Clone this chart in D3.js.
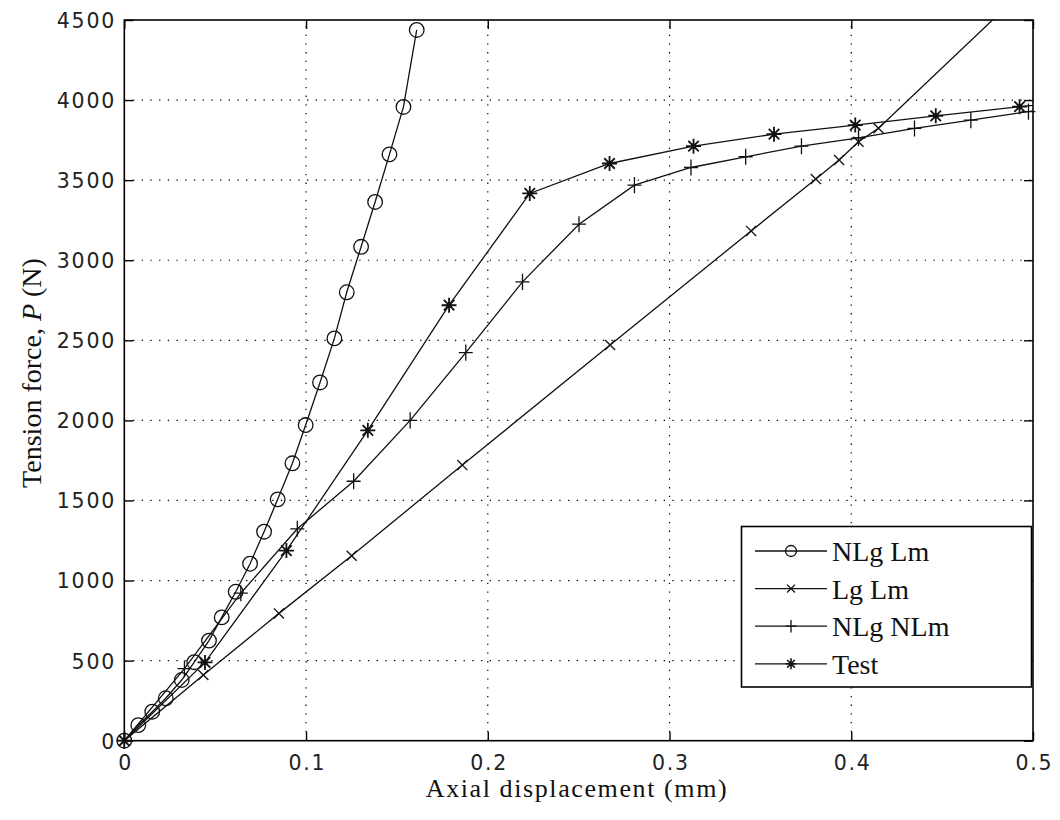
<!DOCTYPE html>
<html>
<head>
<meta charset="utf-8">
<script src="https://cdn.jsdelivr.net/npm/d3@7"></script>
<style>
  html, body { margin: 0; padding: 0; background: #fff; }
  svg { display: block; }
  .tick-label { font-family: "DejaVu Sans", sans-serif; font-size: 20.5px; letter-spacing: 1.8px; fill: #222; }
  .serif { font-family: "Liberation Serif", "Times New Roman", serif; fill: #111; }
</style>
</head>
<body>
<svg id="chart" width="1060" height="820"></svg>
<script>
// Axial displacement (mm) and tension force (N) for each analysis and the test
const nlgLmX = [0, 0.0077, 0.0154, 0.0228, 0.0316, 0.0385, 0.0466, 0.0536, 0.0613, 0.0692, 0.0769,
                0.0844, 0.0925, 0.0998, 0.1077, 0.1156, 0.1224, 0.1303, 0.1380, 0.1459, 0.1536, 0.1609];
const nlgLmY = [0, 97, 181, 265, 379, 490, 625, 770, 930, 1105, 1305,
                1507, 1732, 1971, 2237, 2512, 2800, 3084, 3364, 3661, 3957, 4438];

const lgLmX = [0, 0.0435, 0.0851, 0.1251, 0.1860, 0.2673, 0.3449, 0.3805, 0.3933, 0.4040, 0.4150, 0.5000];
const lgLmY = [0, 410, 795, 1155, 1721, 2471, 3183, 3507, 3626, 3740, 3824, 4740];

const nlgNlmX = [0, 0.0331, 0.0641, 0.0952, 0.1262, 0.1573, 0.1879, 0.2191, 0.2502, 0.2807,
                 0.3118, 0.3419, 0.3726, 0.4040, 0.4348, 0.4658, 0.4975, 0.5270];
const nlgNlmY = [0, 450, 921, 1323, 1620, 2000, 2423, 2865, 3225, 3469,
                 3579, 3646, 3712, 3764, 3823, 3875, 3928, 3975];

const testX = [0, 0.0444, 0.0892, 0.1340, 0.1787, 0.2231, 0.2670, 0.3132, 0.3575, 0.4022, 0.4465, 0.4926, 0.5350];
const testY = [0, 489, 1187, 1938, 2719, 3417, 3604, 3712, 3787, 3844, 3902, 3959, 4006];

const seriesNames = ["NLg Lm", "Lg Lm", "NLg NLm", "Test"];
const seriesMarkers = ["circle", "cross", "plus", "star"];

const xTicks = [0, 0.1, 0.2, 0.3, 0.4, 0.5];
const xTickLabels = ["0", "0.1", "0.2", "0.3", "0.4", "0.5"];
const yTicks = [0, 500, 1000, 1500, 2000, 2500, 3000, 3500, 4000, 4500];
const yTickLabels = ["0", "500", "1000", "1500", "2000", "2500", "3000", "3500", "4000", "4500"];

const xLabel = "Axial displacement (mm)";

const series = [
  { x: nlgLmX, y: nlgLmY },
  { x: lgLmX, y: lgLmY },
  { x: nlgNlmX, y: nlgNlmY },
  { x: testX, y: testY }
].map((s, i) => ({
  name: seriesNames[i],
  marker: seriesMarkers[i],
  pts: s.x.map((v, j) => [v, s.y[j]])
}));

const svg = d3.select("#chart");
const pLeft = 124.3, pRight = 1033, pTop = 20, pBottom = 740.7;
const x = d3.scaleLinear().domain([0, 0.5]).range([pLeft, pRight]);
const y = d3.scaleLinear().domain([0, 4500]).range([pBottom, pTop]);

svg.append("defs").append("clipPath").attr("id", "plot-clip")
  .append("rect").attr("x", pLeft).attr("y", pTop).attr("width", pRight - pLeft).attr("height", pBottom - pTop);

// dotted grid
const grid = svg.append("g").attr("stroke", "#000").attr("stroke-width", 1.2)
  .attr("stroke-dasharray", "1.3,7.4").attr("fill", "none");
xTicks.filter(t => t > 0 && t < 0.5).forEach(t => {
  grid.append("line").attr("x1", x(t)).attr("x2", x(t)).attr("y1", pBottom).attr("y2", pTop);
});
yTicks.filter(t => t > 0 && t < 4500).forEach(t => {
  grid.append("line").attr("x1", pLeft).attr("x2", pRight).attr("y1", y(t)).attr("y2", y(t));
});

// axes with inward ticks, mirrored on the top and right
const tickLen = 9;
const axB = svg.append("g").attr("transform", `translate(0,${pBottom})`)
  .call(d3.axisBottom(x).tickValues(xTicks).tickSizeInner(-tickLen).tickSizeOuter(0)
    .tickFormat((d, i) => xTickLabels[i]));
const axT = svg.append("g").attr("transform", `translate(0,${pTop})`)
  .call(d3.axisTop(x).tickValues(xTicks).tickSizeInner(-tickLen).tickSizeOuter(0).tickFormat(""));
const axL = svg.append("g").attr("transform", `translate(${pLeft},0)`)
  .call(d3.axisLeft(y).tickValues(yTicks).tickSizeInner(-tickLen).tickSizeOuter(0)
    .tickFormat((d, i) => yTickLabels[i]));
const axR = svg.append("g").attr("transform", `translate(${pRight},0)`)
  .call(d3.axisRight(y).tickValues(yTicks).tickSizeInner(-tickLen).tickSizeOuter(0).tickFormat(""));

[axB, axT, axL, axR].forEach(a => {
  a.attr("font-size", null).attr("font-family", null);
  a.select(".domain").remove();
  a.selectAll(".tick line").attr("stroke", "#000").attr("stroke-width", 1.4);
  a.selectAll("text").attr("class", "tick-label").attr("fill", null);
});
axB.selectAll(".tick text").attr("y", 29).attr("dy", null).attr("dx", "0.9px");
axL.selectAll(".tick text").attr("x", -10).attr("dy", "0.36em").attr("dx", "1.8px");

// frame
svg.append("rect").attr("x", pLeft).attr("y", pTop).attr("width", pRight - pLeft).attr("height", pBottom - pTop)
  .attr("fill", "none").attr("stroke", "#000").attr("stroke-width", 1.6);

// marker shapes
function markerPath(type, s) {
  const d = d3.path();
  if (type === "circle") {
    d.moveTo(s, 0); d.arc(0, 0, s, 0, 2 * Math.PI);
  } else if (type === "cross") {
    const c = s * 0.72;
    d.moveTo(-c, -c); d.lineTo(c, c); d.moveTo(-c, c); d.lineTo(c, -c);
  } else if (type === "plus") {
    d.moveTo(-s, 0); d.lineTo(s, 0); d.moveTo(0, -s * 1.15); d.lineTo(0, s * 1.15);
  } else if (type === "star") {
    const c = s * 0.7;
    d.moveTo(-s, 0); d.lineTo(s, 0); d.moveTo(0, -s); d.lineTo(0, s);
    d.moveTo(-c, -c); d.lineTo(c, c); d.moveTo(-c, c); d.lineTo(c, -c);
  }
  return d.toString();
}
const markerSize = { circle: 7.3, cross: 7, plus: 7, star: 7.5 };

const line = d3.line().x(d => x(d[0])).y(d => y(d[1]));
const plot = svg.append("g");
series.forEach(s => {
  plot.append("path").datum(s.pts).attr("d", line)
    .attr("fill", "none").attr("stroke", "#111").attr("stroke-width", 1.3)
    .attr("clip-path", "url(#plot-clip)");
});
series.forEach(s => {
  const inside = s.pts.filter(p => p[0] <= 0.5 && p[1] <= 4500);
  plot.append("g").selectAll("path").data(inside).join("path")
    .attr("transform", d => `translate(${x(d[0])},${y(d[1])})`)
    .attr("d", markerPath(s.marker, markerSize[s.marker]))
    .attr("fill", "none").attr("stroke", "#111")
    .attr("stroke-width", s.marker === "star" ? 1.8 : 1.3);
  if (s.marker === "star") {
    plot.append("g").selectAll("circle").data(inside).join("circle")
      .attr("cx", d => x(d[0])).attr("cy", d => y(d[1])).attr("r", 2.6).attr("fill", "#111");
  }
});

// axis titles
svg.append("text").attr("class", "serif").attr("x", 577).attr("y", 797)
  .attr("text-anchor", "middle").attr("font-size", 26).attr("letter-spacing", "1.6px").text(xLabel);
const yTitle = svg.append("text").attr("class", "serif")
  .attr("transform", "translate(41,373) rotate(-90)")
  .attr("text-anchor", "middle").attr("font-size", 28);
yTitle.append("tspan").text("Tension force, ");
yTitle.append("tspan").attr("font-style", "italic").text("P");
yTitle.append("tspan").text(" (N)");

// legend
const lg = svg.append("g");
lg.append("rect").attr("x", 741.5).attr("y", 526.5).attr("width", 290).attr("height", 160.5)
  .attr("fill", "#fff").attr("stroke", "#000").attr("stroke-width", 1.6);
series.forEach((s, i) => {
  const ry = 551 + i * 37.6;
  lg.append("line").attr("x1", 755).attr("x2", 827).attr("y1", ry).attr("y2", ry)
    .attr("stroke", "#111").attr("stroke-width", 1.3);
  lg.append("path").attr("transform", `translate(791,${ry})`)
    .attr("d", markerPath(s.marker, 5.5))
    .attr("fill", "none").attr("stroke", "#111").attr("stroke-width", s.marker === "star" ? 1.6 : 1.3);
  if (s.marker === "star") {
    lg.append("circle").attr("cx", 791).attr("cy", ry).attr("r", 2).attr("fill", "#111");
  }
  lg.append("text").attr("class", "serif").attr("x", 832).attr("y", ry + 10)
    .attr("font-size", 28).text(s.name);
});
</script>
</body>
</html>
